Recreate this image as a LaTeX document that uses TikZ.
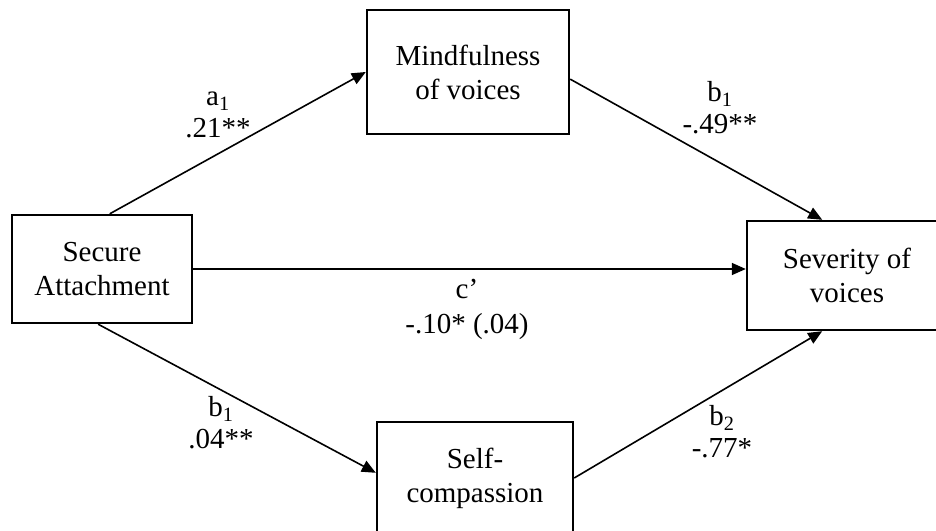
\documentclass[tikz,border=0pt]{standalone}
\usepackage{fontspec}
\setmainfont{Liberation Serif}
\usetikzlibrary{arrows.meta}
\tikzset{
  box/.style={draw, line width=2.4pt, align=center, inner sep=0pt,
              font=\fontsize{29}{34}\selectfont},
  arr/.style={-{Triangle[length=14pt, width=12pt]}, line width=1.6pt},
  lbl/.style={align=center, inner sep=0pt, font=\fontsize{29}{32}\selectfont}
}

\begin{document}
\begin{tikzpicture}[x=1pt, y=-1pt]
  \useasboundingbox (0,0) rectangle (936,530);
  \clip (0,0) rectangle (936,530);
  \node[box, minimum width=180pt, minimum height=108pt] (sec) at (102,269) {Secure\\Attachment};
  \node[box, minimum width=202pt, minimum height=124pt] (mind) at (468,72) {Mindfulness\\of voices};
  \node[box, minimum width=196pt, minimum height=112pt] (self) at (475,478) {Self-\\compassion};
  \node[box, minimum width=200pt, minimum height=109pt] (sev) at (847,275.5) {Severity of\\voices};
  \draw[arr] (sec.82) -- (mind.west);
  \draw[arr] (mind.-4) -- (sev.114);
  \draw[arr] (sec.east) -- (sec.east -| sev.west);
  \draw[arr] (sec.266) -- (self.177);
  \draw[arr] (self.east) -- (sev.246);
  % path labels
  \node[lbl] (la1) at (218,115) {a\textsubscript{1}\\.21**};
  \node[lbl] (lb1) at (720,108) {b\textsubscript{1}\\-.49**};
  \node[lbl, font=\fontsize{29}{35}\selectfont] (lc) at (467,309) {c’\\-.10* (.04)};
  \node[lbl] (lb1s) at (221,423) {b\textsubscript{1}\\.04**};
  \node[lbl] (lb2) at (722,432) {b\textsubscript{2}\\-.77*};
\end{tikzpicture}
\end{document}
